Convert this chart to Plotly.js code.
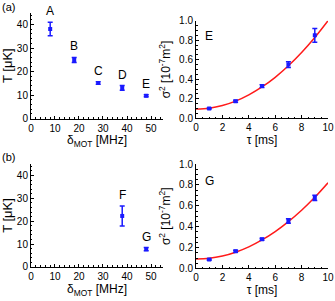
<!DOCTYPE html>
<html>
<head>
<meta charset="utf-8">
<script src="https://cdn.plot.ly/plotly-3.0.1.min.js"></script>
<style>html,body{margin:0;padding:0;background:#fff;}#chart{width:335px;height:301px;}</style>
</head>
<body>
<div id="chart"></div>
<script>
// ---- data ----
const detTop = [8, 18, 28, 38, 48];
const tempTop = [38.1, 24.9, 15.1, 13.0, 9.7];
const tempTopErr = [2.9, 1.1, 0.5, 1.0, 0.4];
const labelsTop = ['A', 'B', 'C', 'D', 'E'];

const detBot = [38, 48];
const tempBot = [22.3, 7.8];
const tempBotErr = [4.4, 0.7];
const labelsBot = ['F', 'G'];

const tau = [1, 3, 5, 7, 9];
const sigE = [0.10, 0.175, 0.33, 0.55, 0.85];
const sigEErr = [0.006, 0.01, 0.015, 0.03, 0.07];
const sigG = [0.085, 0.165, 0.28, 0.455, 0.675];
const sigGErr = [0.006, 0.01, 0.01, 0.022, 0.025];

const tauFit = [0, 1, 2, 3, 4, 5, 6, 7, 8, 9, 10];
const fitE = [0.095, 0.104, 0.131, 0.176, 0.24, 0.321, 0.42, 0.538, 0.674, 0.828, 1.0];
const fitG = [0.09, 0.097, 0.119, 0.156, 0.207, 0.273, 0.353, 0.448, 0.557, 0.681, 0.82];

const panelLabels = ['(a)', '(b)'];
const fitLabels = ['E', 'G'];

// ---- styles ----
const FONT = 'Liberation Sans, Arial, sans-serif';
const BLUE = '#1a1aff';
const RED = '#ff1a1a';

function ptTrace(x, y, err, xa, ya) {
  return {
    type: 'scatter', mode: 'markers', x: x, y: y, xaxis: xa, yaxis: ya,
    marker: {symbol: 'square', size: 4, color: BLUE},
    error_y: {type: 'data', array: err, visible: true, color: BLUE, thickness: 1.5, width: 2.5},
    showlegend: false, hoverinfo: 'skip'
  };
}
function fitTrace(x, y, xa, ya) {
  return {
    type: 'scatter', mode: 'lines', x: x, y: y, xaxis: xa, yaxis: ya,
    line: {color: RED, width: 1.5, shape: 'spline'},
    showlegend: false, hoverinfo: 'skip'
  };
}

const data = [
  ptTrace(detTop, tempTop, tempTopErr, 'x', 'y'),
  fitTrace(tauFit, fitE, 'x2', 'y2'),
  ptTrace(tau, sigE, sigEErr, 'x2', 'y2'),
  ptTrace(detBot, tempBot, tempBotErr, 'x3', 'y3'),
  fitTrace(tauFit, fitG, 'x4', 'y4'),
  ptTrace(tau, sigG, sigGErr, 'x4', 'y4')
];

function axis(extra) {
  return Object.assign({
    showline: true, linecolor: '#000', linewidth: 1, mirror: false,
    showgrid: false, zeroline: false,
    ticks: 'inside', ticklen: 3, tickcolor: '#000', tickwidth: 1,
    tickfont: {family: FONT, size: 10, color: '#000'},
    automargin: false, fixedrange: true
  }, extra);
}
const titleFont = {family: FONT, size: 12, color: '#000'};
const yTitleFont = {family: FONT, size: 13, color: '#000'};

const xDomL = [0.0925, 0.4866];
const xDomR = [0.5851, 0.9791];

const layout = {
  width: 335, height: 301,
  margin: {l: 0, r: 0, t: 0, b: 0},
  paper_bgcolor: '#fff', plot_bgcolor: '#fff',
  font: {family: FONT, color: '#000'},
  showlegend: false,
  xaxis: axis({domain: xDomL, anchor: 'y', range: [0, 55], dtick: 10,
    minor: {ticks: 'inside', ticklen: 1.5, dtick: 2, tickcolor: '#000'},
    title: {text: 'δ<sub>MOT</sub> [MHz]', font: titleFont, standoff: 2}}),
  yaxis: axis({domain: [0.6063, 0.9576], anchor: 'x', range: [0, 45], dtick: 10,
    minor: {ticks: 'inside', ticklen: 1.5, dtick: 2, tickcolor: '#000'},
    title: {text: 'T [μK]', font: yTitleFont, standoff: 8}}),
  xaxis2: axis({domain: xDomR, anchor: 'y2', range: [0, 10], dtick: 2,
    minor: {ticks: 'inside', ticklen: 1.5, dtick: 0.5, tickcolor: '#000'},
    title: {text: 'τ [ms]', font: titleFont, standoff: 2}}),
  yaxis2: axis({domain: [0.607, 0.9312], anchor: 'x2', range: [0, 1], dtick: 0.2, tickformat: '.1f',
    minor: {ticks: 'inside', ticklen: 1.5, dtick: 0.05, tickcolor: '#000'},
    title: {text: 'σ<sup>2</sup> [10<sup>-7</sup>m<sup>2</sup>]', font: titleFont, standoff: 5}}),
  xaxis3: axis({domain: xDomL, anchor: 'y3', range: [0, 55], dtick: 10,
    minor: {ticks: 'inside', ticklen: 1.5, dtick: 2, tickcolor: '#000'},
    title: {text: 'δ<sub>MOT</sub> [MHz]', font: titleFont, standoff: 2}}),
  yaxis3: axis({domain: [0.113, 0.4551], anchor: 'x3', range: [0, 45], dtick: 10,
    minor: {ticks: 'inside', ticklen: 1.5, dtick: 2, tickcolor: '#000'},
    title: {text: 'T [μK]', font: yTitleFont, standoff: 8}}),
  xaxis4: axis({domain: xDomR, anchor: 'y4', range: [0, 10], dtick: 2,
    minor: {ticks: 'inside', ticklen: 1.5, dtick: 0.5, tickcolor: '#000'},
    title: {text: 'τ [ms]', font: titleFont, standoff: 2}}),
  yaxis4: axis({domain: [0.108, 0.4551], anchor: 'x4', range: [0, 1], dtick: 0.2, tickformat: '.1f',
    minor: {ticks: 'inside', ticklen: 1.5, dtick: 0.05, tickcolor: '#000'},
    title: {text: 'σ<sup>2</sup> [10<sup>-7</sup>m<sup>2</sup>]', font: titleFont, standoff: 5}}),
  annotations: []
};

const annFont = {family: FONT, size: 12, color: '#000'};
labelsTop.forEach((t, i) => layout.annotations.push({
  text: t, x: detTop[i], y: tempTop[i] + tempTopErr[i], xref: 'x', yref: 'y',
  showarrow: false, yanchor: 'bottom', yshift: 2, font: annFont
}));
labelsBot.forEach((t, i) => layout.annotations.push({
  text: t, x: detBot[i], y: tempBot[i] + tempBotErr[i], xref: 'x3', yref: 'y3',
  showarrow: false, yanchor: 'bottom', yshift: 2, font: annFont
}));
layout.annotations.push({text: fitLabels[0], x: 1.0, y: 0.84, xref: 'x2', yref: 'y2', showarrow: false, font: annFont});
layout.annotations.push({text: fitLabels[1], x: 1.0, y: 0.84, xref: 'x4', yref: 'y4', showarrow: false, font: annFont});
layout.annotations.push({text: panelLabels[0], x: 0, y: 1, xref: 'paper', yref: 'paper', xanchor: 'left', yanchor: 'top', yshift: 1, showarrow: false, font: {family: FONT, size: 11, color: '#000'}});
layout.annotations.push({text: panelLabels[1], x: 0, y: 0.5017, xref: 'paper', yref: 'paper', xanchor: 'left', yanchor: 'top', yshift: 1, showarrow: false, font: {family: FONT, size: 11, color: '#000'}});

Plotly.newPlot('chart', data, layout, {displayModeBar: false});
</script>
</body>
</html>
